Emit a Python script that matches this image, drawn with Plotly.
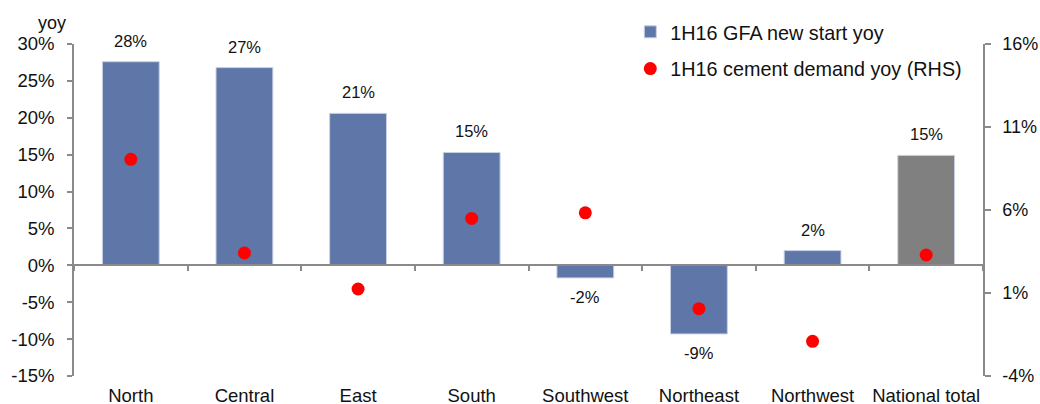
import plotly.graph_objects as go

categories = ["North", "Central", "East", "South", "Southwest", "Northeast", "Northwest", "National total"]
gfa_yoy = [27.6, 26.8, 20.6, 15.3, -1.7, -9.3, 2.0, 14.9]
cement_yoy = [9.05, 3.41, 1.24, 5.49, 5.83, 0.05, -1.91, 3.29]
bar_colors = ["#5f76a8"] * 7 + ["#808080"]
left_ticks = [-15, -10, -5, 0, 5, 10, 15, 20, 25, 30]
right_ticks = [-4, 1, 6, 11, 16]

FONT = "Liberation Sans, Arial, sans-serif"
AX = "#8a8a8a"
TXT = "#111111"

fig = go.Figure()
fig.add_trace(go.Bar(
    x=categories, y=gfa_yoy, name="1H16 GFA new start yoy",
    marker=dict(color=bar_colors, line=dict(color="#c9d1e3", width=1)),
    legendgroup="a", xaxis="x", yaxis="y",
))
fig.add_trace(go.Scatter(
    x=categories, y=cement_yoy, name="1H16 cement demand yoy (RHS)",
    mode="markers", marker=dict(color="#ff0000", size=13),
    legendgroup="b", xaxis="x2", yaxis="y2",
))

for c, v in zip(categories, gfa_yoy):
    fig.add_annotation(
        x=c, y=v, xref="x", yref="y", text=f"{v:.0f}%", showarrow=False,
        yanchor="bottom" if v >= 0 else "top", yshift=10 if v >= 0 else -8,
        font=dict(size=16.5, color=TXT, family=FONT),
    )

fig.add_annotation(x=-0.024, y=1.064, xref="paper", yref="paper", xanchor="center", yanchor="middle",
                   text="yoy", showarrow=False,
                   font=dict(size=18, color=TXT, family=FONT))

fig.update_layout(
    width=1040, height=404,
    margin=dict(l=74, r=57, t=42, b=28),
    paper_bgcolor="white", plot_bgcolor="white",
    font=dict(family=FONT, size=18.5, color=TXT),
    bargap=0.5,
    showlegend=True,
    legend=dict(x=0.612, y=1.095, xanchor="left", yanchor="top", bgcolor="rgba(0,0,0,0)",
                font=dict(size=19.8, family=FONT, color=TXT), tracegroupgap=8,
                itemwidth=30),
    xaxis=dict(type="category", categoryorder="array", categoryarray=categories,
               range=[-0.5, 7.5], showline=False, ticks="", showgrid=False, zeroline=False,
               tickfont=dict(size=18.5), ticklabelstandoff=6, automargin=False),
    xaxis2=dict(type="category", categoryorder="array", categoryarray=categories,
                range=[-0.5, 7.5], overlaying="x", anchor="free", position=1/3,
                showline=True, linecolor=AX, linewidth=1.5,
                ticks="outside", tickson="boundaries", ticklen=5, tickcolor=AX, tickwidth=1.5,
                showticklabels=False, showgrid=False, zeroline=False, automargin=False),
    yaxis=dict(range=[-15, 30], tickvals=left_ticks, ticktext=[f"{t}%" for t in left_ticks],
               showline=True, linecolor=AX, linewidth=1.5, ticks="outside", ticklen=5,
               tickcolor=AX, tickwidth=1.5, showgrid=False, zeroline=False,
               tickfont=dict(size=18.5), ticklabelstandoff=9, automargin=False),
    yaxis2=dict(range=[-4, 16], tickvals=right_ticks, ticktext=[f"{t}%" for t in right_ticks],
                overlaying="y", side="right", anchor="x2",
                showline=True, linecolor=AX, linewidth=1.5, ticks="outside", ticklen=6,
                tickcolor=AX, tickwidth=1.5, showgrid=False, zeroline=False,
                tickfont=dict(size=18), ticklabelstandoff=8, automargin=False),
)

fig.write_html("out.html")
